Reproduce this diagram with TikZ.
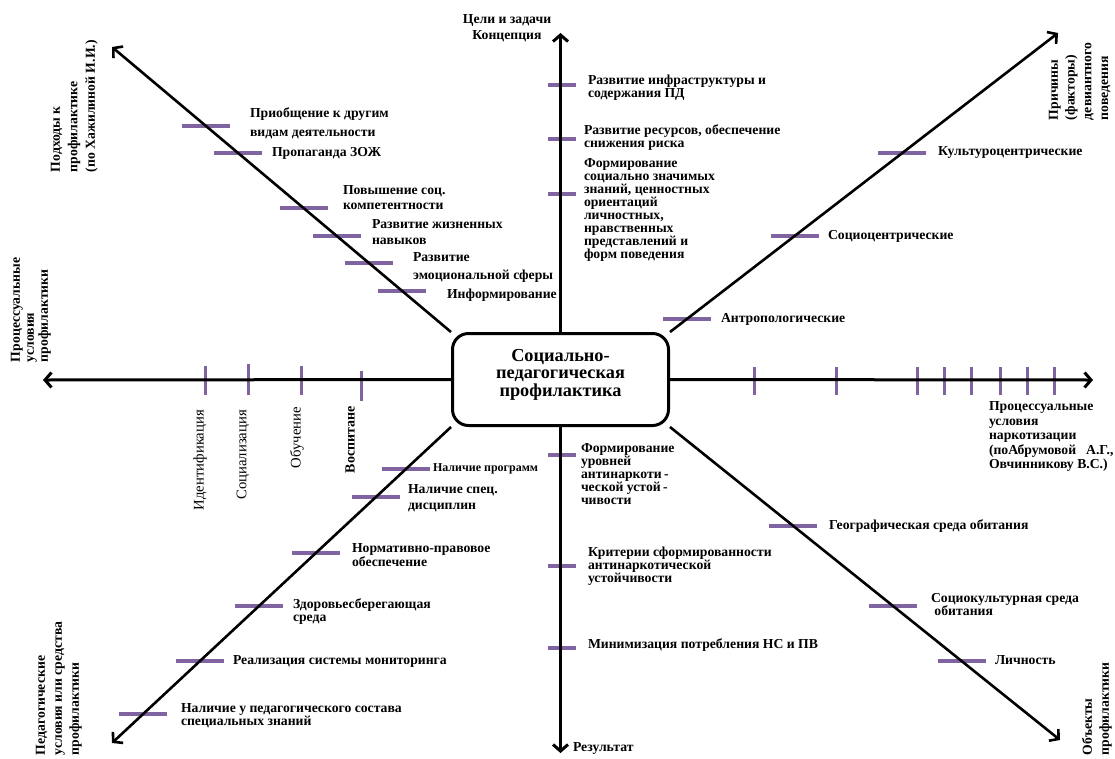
\documentclass[tikz,border=0pt]{standalone}
\usepackage{fontspec}
\setmainfont{Liberation Serif}
\usetikzlibrary{arrows.meta}
\definecolor{tickpurple}{RGB}{128,100,162}
\begin{document}
\begin{tikzpicture}[x=1pt,y=-1pt,
  axis/.style={line width=3pt,-{Straight Barb[length=6.5pt,width=15pt]}},
  diag/.style={line width=2.6pt,-{Straight Barb[length=6.5pt,width=15pt]}},
  htick/.style={draw=tickpurple,line width=3.5pt},
  vtick/.style={draw=tickpurple,line width=3pt},
  lbl/.style={inner sep=0pt,outer sep=0pt,anchor=north west,align=left,font=\bfseries\fontsize{13.7}{#1}\selectfont},
  lbl/.default=13,
  rlbl/.style={lbl=#1,rotate=90},
  rlbl/.default=16,
  tlbl/.style={inner sep=0pt,outer sep=0pt,anchor=east,rotate=90,font=\fontsize{14.7}{14}\selectfont},
]
\fill[white] (0,0) rectangle (1115,758);
\useasboundingbox (0,0) rectangle (1115,758);

% central box
\node[draw,line width=3pt,rounded corners=16pt,minimum width=216pt,minimum height=92pt,inner sep=0pt] (box) at (560.5,379.5) {};
\node[inner sep=0pt,align=center,font=\bfseries\fontsize{18.3}{17.5}\selectfont] (boxtext) at (560.5,374.5) {Социально-\\педагогическая\\профилактика};

\coordinate (bnw) at (box.north west);
\coordinate (bne) at (box.north east);
\coordinate (bsw) at (box.south west);
\coordinate (bse) at (box.south east);

% axis ends
\coordinate (topend) at (560.5,33);
\coordinate (botend) at (560.5,753);
\coordinate (leftend) at (43,380);
\coordinate (rightend) at (1093,380);
\coordinate (nwend) at (112,47);
\coordinate (neend) at (1058,33);
\coordinate (swend) at (112,743);
\coordinate (seend) at (1060,740);

% ticks on diagonals
\foreach \y [count=\i] in {126,153,208,236,263,291} {
  \coordinate (nwt\i) at (intersection of bnw--nwend and 0,\y--1115,\y);
  \draw[htick] ([xshift=-24pt]nwt\i) -- ([xshift=24pt]nwt\i);
}
\foreach \y [count=\i] in {153,236,319} {
  \coordinate (net\i) at (intersection of bne--neend and 0,\y--1115,\y);
  \draw[htick] ([xshift=-24pt]net\i) -- ([xshift=24pt]net\i);
}
\foreach \y [count=\i] in {469,497,553,606,661,714} {
  \coordinate (swt\i) at (intersection of bsw--swend and 0,\y--1115,\y);
  \draw[htick] ([xshift=-24pt]swt\i) -- ([xshift=24pt]swt\i);
}
\foreach \y [count=\i] in {526,606,661} {
  \coordinate (set\i) at (intersection of bse--seend and 0,\y--1115,\y);
  \draw[htick] ([xshift=-24pt]set\i) -- ([xshift=24pt]set\i);
}
% ticks on vertical axis
\foreach \y [count=\i] in {85,139,194} {
  \coordinate (upt\i) at (562,\y);
  \draw[htick] ([xshift=-14pt]upt\i) -- ([xshift=14pt]upt\i);
}
\foreach \y [count=\i] in {455,566,648} {
  \coordinate (dnt\i) at (562,\y);
  \draw[htick] ([xshift=-14pt]dnt\i) -- ([xshift=14pt]dnt\i);
}
% ticks on horizontal axis
\foreach \x/\a/\b [count=\i] in {205/366/395,248/364/395,301/366/395,361/371/401} {
  \draw[vtick] (\x,\a) -- (\x,\b);
}
\foreach \x [count=\i] in {754,836,917,944,971,1000,1027,1054} {
  \draw[vtick] (\x,367) -- (\x,395);
}

% axes
\draw[axis] (box.north) -- (topend);
\draw[axis] (box.south) -- (botend);
\draw[axis] (box.west) -- (leftend);
\draw[axis] (box.east) -- (rightend);
\draw[diag] (bnw) -- (nwend);
\draw[diag] (bne) -- (neend);
\draw[diag] (bsw) -- (swend);
\draw[diag] (bse) -- (seend);

% top / bottom axis titles
\node[lbl=16,anchor=north,align=center] (toptitle) at (507,15) {Цели и задачи\\Концепция};
\node[lbl] (res) at (573,743) {Результат};

% upper vertical labels
\node[lbl] (u1) at (588,75) {Развитие инфраструктуры и\\содержания ПД};
\node[lbl] (u2) at (584,125) {Развитие ресурсов, обеспечение\\снижения риска};
\node[lbl=12.9] (u3) at (584,159) {Формирование\\социально значимых\\знаний, ценностных\\ориентаций\\личностных,\\нравственных\\представлений и\\форм поведения};

% lower vertical labels
\node[lbl] (d1) at (581,444) {Формирование\\уровней\\антинаркоти\,-\\ческой устой\,-\\чивости};
\node[lbl] (d2) at (588,547) {Критерии сформированности\\антинаркотической\\устойчивости};
\node[lbl] (d3) at (588,639) {Минимизация потребления НС и ПВ};

% NW labels
\node[lbl=19] (n1) at (250,108) {Приобщение к другим\\видам деятельности};
\node[lbl] (n2) at (272,147) {Пропаганда ЗОЖ};
\node[lbl=15] (n3) at (343,186) {Повышение соц.\\компетентности};
\node[lbl=16] (n4) at (372,220) {Развитие жизненных\\навыков};
\node[lbl=18] (n5) at (413,253) {Развитие\\эмоциональной сферы};
\node[lbl] (n6) at (447,289) {Информирование};

% NE labels
\node[lbl] (e1) at (938,147) {Культуроцентрические};
\node[lbl] (e2) at (828,230) {Социоцентрические};
\node[lbl] (e3) at (721,313) {Антропологические};

% SW labels
\node[lbl,font=\bfseries\fontsize{12}{12}\selectfont] (s1) at (433,464) {Наличие программ};
\node[lbl=16] (s2) at (408,485) {Наличие спец.\\дисциплин};
\node[lbl=12.5] (s3) at (352,544) {Нормативно-правовое\\обеспечение};
\node[lbl] (s4) at (293,599) {Здоровьесберегающая\\среда};
\node[lbl] (s5) at (233,656) {Реализация системы мониторинга};
\node[lbl=12.5] (s6) at (181,704) {Наличие у педагогического состава\\специальных знаний};

% SE labels
\node[lbl] (t1) at (829,520) {Географическая среда обитания};
\node[lbl] (t2) at (931,593) {Социокультурная среда\\\ обитания};
\node[lbl] (t3) at (995,656) {Личность};

% right axis title
\node[lbl=14.5] (rtitle) at (989,402) {Процессуальные\\условия\\наркотизации\\(поАбрумовой\hspace{10pt}А.Г.,\\Овчинникову В.С.)};

% left axis tick labels
\node[tlbl] (l1) at (200,410) {Идентификация};
\node[tlbl] (l2) at (243,410) {Социализация};
\node[tlbl] (l3) at (297,407) {Обучение};
\node[tlbl,font=\bfseries\fontsize{14}{14}\selectfont] (l4) at (350,406) {Воспитане};

% rotated corner titles
\node[rlbl=17.5] (nwtitle) at (51,172) {Подходы к\\профилактике\\(по Хажилиной И.И.)};
\node[rlbl=14] (ltitle) at (11,362) {Процессуальные\\условия\\профилактики};
\node[rlbl=17] (swtitle) at (36,755) {Педагогические\\условия или средства\\профилактики};
\node[rlbl=16.7] (netitle) at (1049,120) {Причины\\(факторы)\\девиантного\\поведения};
\node[rlbl=17] (setitle) at (1082,755) {Объекты\\профилактики};
\end{tikzpicture}
\end{document}
